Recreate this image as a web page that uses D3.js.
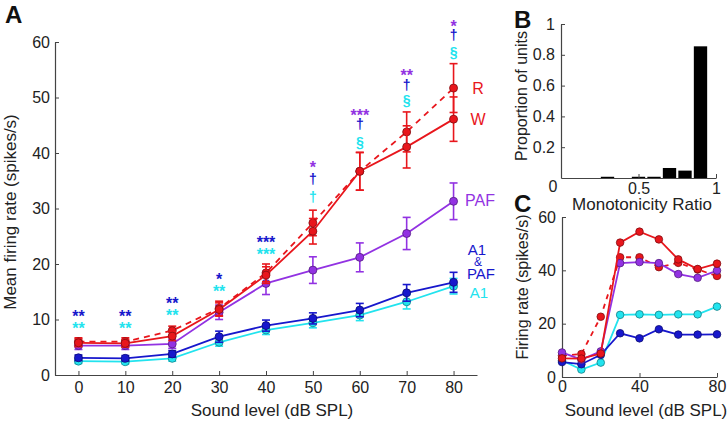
<!DOCTYPE html>
<html><head><meta charset="utf-8">
<script src="https://cdn.jsdelivr.net/npm/d3@7"></script>
<style>
body{margin:0;background:#fff;}
svg{display:block;font-family:"Liberation Sans",Arial,Helvetica,sans-serif;}
</style></head>
<body><svg id="c" width="727" height="421"></svg>
<script>
// ---------- Panel A data ----------
const levels = [0,10,20,30,40,50,60,70,80];
const W_mean    = [5.8,5.7,7.0,11.8,18.0,25.9,36.7,41.1,46.1];
const W_err     = [0.7,0.7,0.8,1.2,1.5,2.3,3.4,3.8,4.0];
const R_mean    = [6.0,6.0,8.0,12.0,18.4,27.4,36.7,43.8,51.7];
const R_err     = [0.7,0.7,0.8,1.3,1.6,2.3,3.4,3.6,4.4];
const PAF_mean  = [5.3,5.3,5.6,11.3,16.5,18.9,21.2,25.5,31.3];
const PAF_err   = [0.7,0.7,0.8,1.3,2.0,2.4,2.6,2.9,3.3];
const A1PAF_mean= [3.1,3.0,3.8,6.9,8.9,10.2,11.7,14.8,16.7];
const A1PAF_err = [0.5,0.5,0.6,1.0,1.0,1.0,1.2,1.5,1.8];
const A1_mean   = [2.5,2.4,3.0,5.9,8.1,9.4,10.8,13.2,16.0];
const A1_err    = [0.4,0.4,0.5,0.7,0.8,0.9,1.0,1.3,1.4];
const xTicksA = [0,10,20,30,40,50,60,70,80];
const yTicksA = [0,10,20,30,40,50,60];

// significance markers (level, text, series colour key, height in spikes/s)
const annLevel  = [0,0,10,10,20,20,30,30,40,40,50,50,50,60,60,60,70,70,70,80,80,80];
const annText   = ["**","**","**","**","**","**","*","**","***","***","*","\u2020","\u2020","***","\u2020","\u00a7","**","\u2020","\u00a7","*","\u2020","\u00a7"];
const annSeries = ["A1PAF","A1","A1PAF","A1","A1PAF","A1","A1PAF","A1","A1PAF","A1","PAF","A1PAF","A1","PAF","A1PAF","A1","PAF","A1PAF","A1","PAF","A1PAF","A1"];
const annValue  = [11.2,9.0,11.2,9.0,13.5,11.4,17.8,15.7,24.5,22.3,38.0,35.3,32.1,47.4,45.2,42.0,54.6,52.3,49.5,63.4,61.3,58.2];

// ---------- Panel B data ----------
const ratioBins = [0.1,0.2,0.3,0.4,0.5,0.6,0.7,0.8,0.9];
const ratioProp = [0,0,0.008,0,0.008,0.008,0.065,0.048,0.855];
const yTicksB = [0.2,0.4,0.6,0.8,1];
const xTicksB = [0.5,1];

// ---------- Panel C data ----------
const levelsC = [0,10,20,30,40,50,60,70,80];
const exW   = [7.0,6.9,8.8,50.4,54.5,51.6,44.1,40.5,42.5];
const exR   = [8.0,8.6,22.6,44.9,44.9,41.2,42.8,40.3,37.9];
const exPAF = [9.2,6.5,9.6,42.7,43.1,42.7,38.6,37.2,39.9];
const exA1PAF=[5.6,4.8,8.3,16.4,14.5,17.9,15.9,15.9,16.0];
const exA1  = [6.2,2.8,5.4,23.3,23.5,23.3,23.5,23.5,26.4];
const xTicksC = [0,40,80];
const yTicksC = [0,20,40,60];

const col = {W:"#e8161c", R:"#e8161c", PAF:"#9232e2", A1PAF:"#1717cc", A1:"#22e3ee"};
const axisCol = "#444", textCol = "#222";
const tickFont = "16px", labelFont = "17px";

const svg = d3.select("#c");

function styleAxis(g){
  g.selectAll("path.domain").attr("stroke",axisCol).attr("stroke-width",1.2);
  g.selectAll(".tick line").attr("stroke",axisCol);
  g.selectAll(".tick text").attr("fill",textCol).style("font-size",tickFont).style("font-family","'Liberation Sans',Arial,sans-serif");
}

// ================= Panel A =================
const xA = d3.scaleLinear().domain([-5,85]).range([55,477]);
const yA = d3.scaleLinear().domain([0,60]).range([375,42]);

svg.append("g").attr("transform","translate(0,375)")
  .call(d3.axisBottom(xA).tickValues(xTicksA).tickSizeInner(-4).tickSizeOuter(0).tickPadding(7))
  .call(styleAxis);
svg.append("g").attr("transform","translate(55,0)")
  .call(d3.axisLeft(yA).tickValues(yTicksA).tickSizeInner(-4).tickSizeOuter(0).tickPadding(5))
  .call(styleAxis);

const seriesA = [
  {key:"A1", m:A1_mean, e:A1_err, dash:null},
  {key:"A1PAF", m:A1PAF_mean, e:A1PAF_err, dash:null},
  {key:"PAF", m:PAF_mean, e:PAF_err, dash:null},
  {key:"R", m:R_mean, e:R_err, dash:"6,5"},
  {key:"W", m:W_mean, e:W_err, dash:null}
];
seriesA.forEach(s=>{
  const c = col[s.key];
  const pts = levels.map((l,i)=>({x:l,y:s.m[i],e:s.e[i]}));
  const g = svg.append("g");
  g.append("path").datum(pts)
    .attr("d", d3.line().x(d=>xA(d.x)).y(d=>yA(d.y)))
    .attr("fill","none").attr("stroke",c).attr("stroke-width",1.8)
    .attr("stroke-dasharray", s.dash);
  const eb = g.selectAll("g.eb").data(pts).join("g").attr("stroke",c).attr("stroke-width",1.6);
  eb.append("line").attr("x1",d=>xA(d.x)).attr("x2",d=>xA(d.x)).attr("y1",d=>yA(d.y-d.e)).attr("y2",d=>yA(d.y+d.e));
  eb.append("line").attr("x1",d=>xA(d.x)-4).attr("x2",d=>xA(d.x)+4).attr("y1",d=>yA(d.y-d.e)).attr("y2",d=>yA(d.y-d.e));
  eb.append("line").attr("x1",d=>xA(d.x)-4).attr("x2",d=>xA(d.x)+4).attr("y1",d=>yA(d.y+d.e)).attr("y2",d=>yA(d.y+d.e));
  g.selectAll("circle").data(pts).join("circle")
    .attr("cx",d=>xA(d.x)).attr("cy",d=>yA(d.y)).attr("r",4)
    .attr("fill",c).attr("stroke",d3.color(c).darker(1.6)).attr("stroke-width",0.8);
});

// significance markers
annText.forEach((t,i)=>{
  const isStar = t.indexOf("*")>=0;
  svg.append("text")
    .attr("x", xA(annLevel[i]))
    .attr("y", yA(annValue[i]) + (isStar ? 9 : 5))
    .attr("text-anchor","middle")
    .attr("fill", col[annSeries[i]])
    .style("font-size", isStar ? "16px" : "14px")
    .style("font-weight","bold")
    .text(t);
});

// series labels
const labA = [
  {t:"R", x:478, y:88, c:col.R, fs:"16px"},
  {t:"W", x:478, y:119, c:col.W, fs:"16px"},
  {t:"PAF", x:480, y:200, c:col.PAF, fs:"16px"},
  {t:"A1", x:477, y:250, c:col.A1PAF, fs:"15px"},
  {t:"&", x:478, y:262, c:col.A1PAF, fs:"12px"},
  {t:"PAF", x:481, y:274, c:col.A1PAF, fs:"15px"},
  {t:"A1", x:479, y:293, c:col.A1, fs:"15px"}
];
labA.forEach(l=>{
  svg.append("text").attr("x",l.x).attr("y",l.y).attr("dy","0.35em")
    .attr("text-anchor","middle").attr("fill",l.c).style("font-size",l.fs).text(l.t);
});

svg.append("text").attr("x",272).attr("y",416).attr("text-anchor","middle")
  .attr("fill",textCol).style("font-size",labelFont).text("Sound level (dB SPL)");
svg.append("text").attr("transform","translate(16,212) rotate(-90)").attr("text-anchor","middle")
  .attr("fill",textCol).style("font-size",labelFont).text("Mean firing rate (spikes/s)");
svg.append("text").attr("x",5).attr("y",23).attr("fill","#111").style("font-size","24px").style("font-weight","bold").text("A");

// ================= Panel B =================
const xB = d3.scaleLinear().domain([0,1]).range([561,716]);
const yB = d3.scaleLinear().domain([0,1]).range([178,24]);
svg.append("g").selectAll("rect").data(ratioBins.map((b,i)=>({b,p:ratioProp[i]})).filter(d=>d.p>0)).join("rect")
  .attr("x",d=>xB(d.b-0.043)).attr("width",d=>xB(0.086)-xB(0))
  .attr("y",d=>yB(d.p)).attr("height",d=>yB(0)-yB(d.p)).attr("fill","#000");
svg.append("g").attr("transform","translate(0,178)")
  .call(d3.axisBottom(xB).tickValues(xTicksB).tickFormat(d3.format("~g")).tickSizeInner(-4).tickSizeOuter(0).tickPadding(5))
  .call(styleAxis);
svg.append("g").attr("transform","translate(561,0)")
  .call(d3.axisLeft(yB).tickValues(yTicksB).tickFormat(d3.format("~g")).tickSizeInner(-4).tickSizeOuter(0).tickPadding(6))
  .call(styleAxis);
svg.append("text").attr("x",553).attr("y",186).attr("dy","0.35em").attr("text-anchor","middle")
  .attr("fill",textCol).style("font-size",tickFont).text("0");
svg.append("text").attr("x",642).attr("y",210).attr("text-anchor","middle")
  .attr("fill",textCol).style("font-size",labelFont).text("Monotonicity Ratio");
svg.append("text").attr("transform","translate(527,96) rotate(-90)").attr("text-anchor","middle")
  .attr("fill",textCol).style("font-size","16px").text("Proportion of units");
svg.append("text").attr("x",514).attr("y",28).attr("fill","#111").style("font-size","24px").style("font-weight","bold").text("B");

// ================= Panel C =================
const xC = d3.scaleLinear().domain([0,80]).range([562,717]);
const yC = d3.scaleLinear().domain([0,60]).range([377,217]);
svg.append("g").attr("transform","translate(0,377)")
  .call(d3.axisBottom(xC).tickValues(xTicksC).tickSizeInner(-4).tickSizeOuter(0).tickPadding(4))
  .call(styleAxis);
svg.append("g").attr("transform","translate(562,0)")
  .call(d3.axisLeft(yC).tickValues(yTicksC).tickSizeInner(-4).tickSizeOuter(0).tickPadding(6))
  .call(styleAxis);
const seriesC = [
  {key:"A1", v:exA1, dash:null},
  {key:"A1PAF", v:exA1PAF, dash:null},
  {key:"R", v:exR, dash:"5,5"},
  {key:"PAF", v:exPAF, dash:null},
  {key:"W", v:exW, dash:null}
];
seriesC.forEach(s=>{
  const c = col[s.key];
  const pts = levelsC.map((l,i)=>({x:l,y:s.v[i]}));
  const g = svg.append("g");
  g.append("path").datum(pts).attr("d",d3.line().x(d=>xC(d.x)).y(d=>yC(d.y)))
    .attr("fill","none").attr("stroke",c).attr("stroke-width",1.8).attr("stroke-dasharray",s.dash);
  g.selectAll("circle").data(pts).join("circle")
    .attr("cx",d=>xC(d.x)).attr("cy",d=>yC(d.y)).attr("r",3.8)
    .attr("fill",c).attr("stroke",d3.color(c).darker(1.6)).attr("stroke-width",0.8);
});
svg.append("text").attr("x",646).attr("y",416).attr("text-anchor","middle")
  .attr("fill",textCol).style("font-size",labelFont).text("Sound level (dB SPL)");
svg.append("text").attr("transform","translate(528,287) rotate(-90)").attr("text-anchor","middle")
  .attr("fill",textCol).style("font-size","16px").text("Firing rate (spikes/s)");
svg.append("text").attr("x",514).attr("y",212).attr("fill","#111").style("font-size","24px").style("font-weight","bold").text("C");
</script></body></html>
